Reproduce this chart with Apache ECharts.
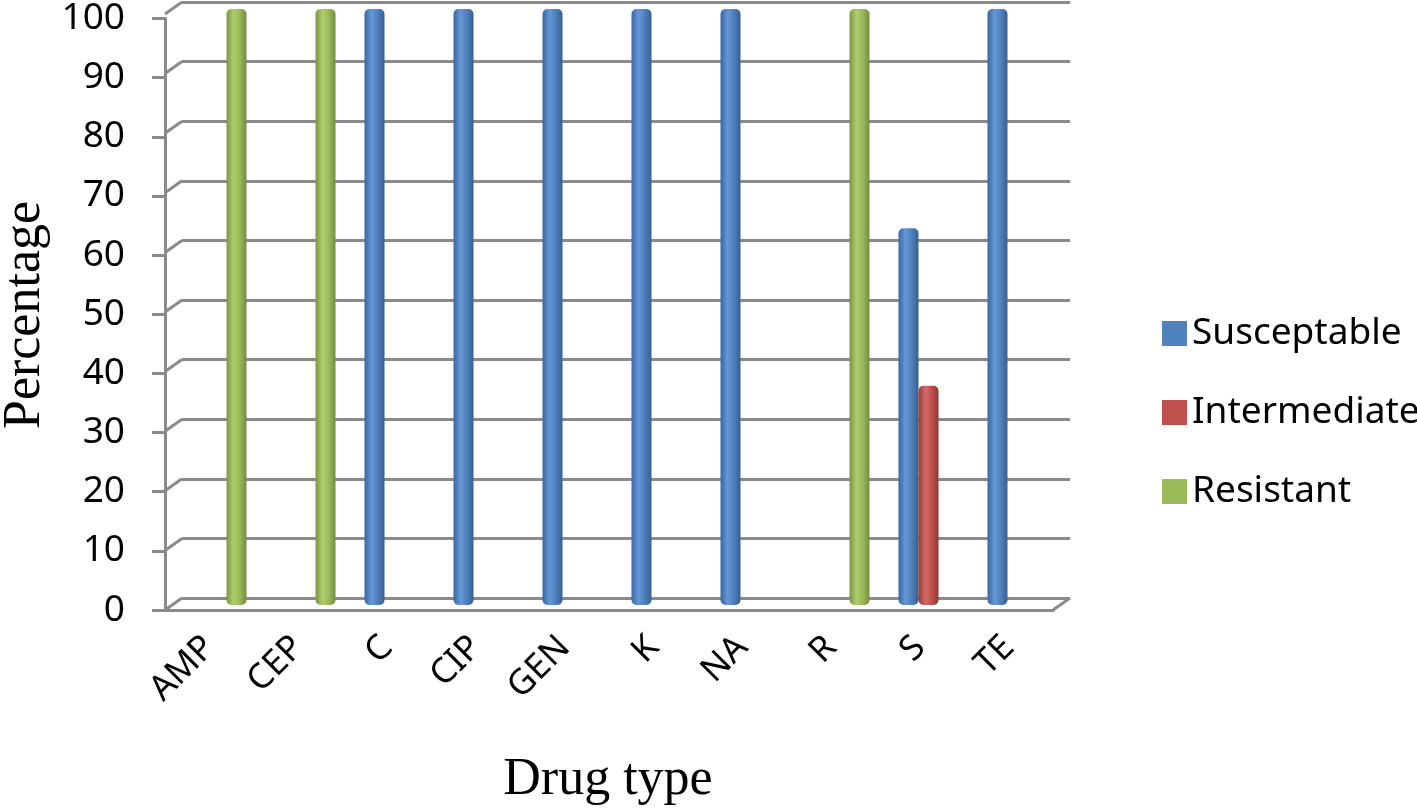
<!DOCTYPE html>
<html>
<head>
<meta charset="utf-8">
<title>Drug type</title>
<script src="https://cdn.jsdelivr.net/npm/echarts@6/dist/echarts.min.js"></script>
<style>
  html, body { margin: 0; padding: 0; background: #fff; }
  #bar-chart { width: 1417px; height: 808px; }
</style>
</head>
<body>
<div id="bar-chart"></div>
<script>
// data
var drugs = ['AMP', 'CEP', 'C', 'CIP', 'GEN', 'K', 'NA', 'R', 'S', 'TE'];
var susceptable = [0, 0, 100, 100, 100, 100, 100, 0, 63.2, 100];
var intermediate = [0, 0, 0, 0, 0, 0, 0, 0, 36.8, 0];
var resistant = [100, 100, 0, 0, 0, 0, 0, 100, 0, 0];
var yTicks = [0, 10, 20, 30, 40, 50, 60, 70, 80, 90, 100];

var gridGrey = '#8a8a8a';

function cylinder(dark, light, mid, dark2) {
    return new echarts.graphic.LinearGradient(0, 0, 1, 0, [
        { offset: 0, color: dark },
        { offset: 0.35, color: light },
        { offset: 0.65, color: mid },
        { offset: 1, color: dark2 }
    ]);
}

var myChart = echarts.init(document.getElementById('bar-chart'));

option = {
    animation: false,
    textStyle: { fontFamily: 'Noto Sans' },
    grid: [
        // back wall
        { left: 182, right: 347, top: 2, bottom: 210 },
        // front axes
        { left: 165, right: 364, top: 14, bottom: 198 },
        // bars
        { left: 172, right: 355, top: 9, bottom: 203 }
    ],
    legend: {
        orient: 'vertical',
        left: 1157,
        top: 310,
        itemWidth: 25,
        itemHeight: 25,
        itemGap: 42,
        icon: 'rect',
        textStyle: { fontSize: 37, color: '#000', fontFamily: 'Noto Sans' },
        data: [
            { name: 'Susceptable', itemStyle: { color: '#4F81BD' } },
            { name: 'Intermediate', itemStyle: { color: '#C0504D' } },
            { name: 'Resistant', itemStyle: { color: '#9BBB59' } }
        ]
    },
    xAxis: [
        { gridIndex: 0, type: 'value', min: 0, max: 1, show: false },
        {
            gridIndex: 1,
            type: 'category',
            data: drugs,
            axisLine: { show: true, lineStyle: { color: gridGrey, width: 3 } },
            axisTick: { show: false },
            axisLabel: { rotate: 45, fontSize: 35, color: '#000', margin: 32, interval: 0 }
        },
        { gridIndex: 2, type: 'category', data: drugs, show: false }
    ],
    yAxis: [
        {
            gridIndex: 0, type: 'value', min: 0, max: 100, interval: 10,
            axisLine: { show: false }, axisTick: { show: false }, axisLabel: { show: false },
            splitLine: { show: true, lineStyle: { color: gridGrey, width: 3 } }
        },
        {
            gridIndex: 1, type: 'value', min: 0, max: 100, interval: 10,
            axisLine: { show: true, lineStyle: { color: gridGrey, width: 3 } },
            axisTick: { show: true, length: 13, lineStyle: { color: gridGrey, width: 3 } },
            axisLabel: { fontSize: 37, color: '#000', margin: 40 },
            splitLine: { show: false }
        },
        { gridIndex: 2, type: 'value', min: 0, max: 100, show: false }
    ],
    graphic: [
        {
            type: 'text', x: 608, y: 780,
            style: { text: 'Drug type', font: '52px "Liberation Serif"', fill: '#000', align: 'center', verticalAlign: 'middle' }
        },
        {
            type: 'text', x: 25, y: 315, rotation: Math.PI / 2,
            style: { text: 'Percentage', font: '52px "Liberation Serif"', fill: '#000', align: 'center', verticalAlign: 'middle' }
        }
    ],
    series: [
        {
            // perspective joints between front ticks and back wall
            type: 'custom',
            xAxisIndex: 0, yAxisIndex: 0,
            silent: true, clip: false, z: 1,
            data: yTicks.map(function (v) { return [0, v]; }),
            renderItem: function (params, api) {
                var p = api.coord([0, api.value(1)]);
                return {
                    type: 'line',
                    shape: { x1: p[0] - 17, y1: p[1] + 12, x2: p[0], y2: p[1] },
                    style: { stroke: gridGrey, lineWidth: 3 }
                };
            }
        },
        {
            type: 'custom',
            xAxisIndex: 0, yAxisIndex: 0,
            silent: true, clip: false, z: 1,
            data: [[1, 0]],
            renderItem: function (params, api) {
                var p = api.coord([1, 0]);
                return {
                    type: 'line',
                    shape: { x1: p[0] - 17, y1: p[1] + 12, x2: p[0], y2: p[1] },
                    style: { stroke: gridGrey, lineWidth: 3 }
                };
            }
        },
        {
            name: 'Susceptable', type: 'bar', xAxisIndex: 2, yAxisIndex: 2,
            barWidth: 20, barGap: '0%', z: 3,
            itemStyle: { color: cylinder('#3a669e', '#6497d6', '#4f81bd', '#375f93'), borderRadius: 5 },
            data: susceptable
        },
        {
            name: 'Intermediate', type: 'bar', xAxisIndex: 2, yAxisIndex: 2,
            barWidth: 20, barGap: '0%', z: 3,
            itemStyle: { color: cylinder('#973b38', '#d36a67', '#c0504d', '#8f3835'), borderRadius: 5 },
            data: intermediate
        },
        {
            name: 'Resistant', type: 'bar', xAxisIndex: 2, yAxisIndex: 2,
            barWidth: 20, barGap: '0%', z: 3,
            itemStyle: { color: cylinder('#7a9443', '#b0cd6e', '#9bbb59', '#738d3f'), borderRadius: 5 },
            data: resistant
        }
    ]
};

myChart.setOption(option, true);
</script>
</body>
</html>
